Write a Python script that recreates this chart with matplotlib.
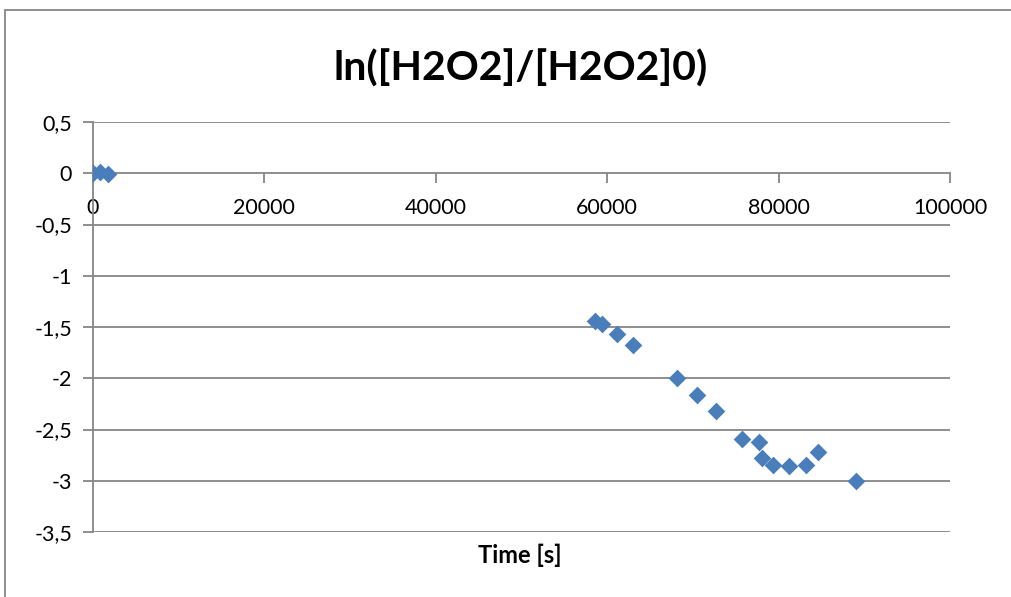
import matplotlib
matplotlib.use("Agg")
import matplotlib.pyplot as plt
from matplotlib.patches import Rectangle

# Datos
time_s = [0, 800, 1750, 58600, 59400, 61200, 63050, 68100, 70450, 72650,
          75700, 77750, 78050, 79400, 81250, 83200, 84650, 89050]
ln_ratio = [0.0, 0.01, -0.01, -1.44, -1.466, -1.564, -1.671, -1.997, -2.159, -2.322,
            -2.588, -2.621, -2.778, -2.842, -2.859, -2.842, -2.719, -3.005]

y_ticks = [0.5, 0, -0.5, -1, -1.5, -2, -2.5, -3, -3.5]
x_ticks = [0, 20000, 40000, 60000, 80000, 100000]

plt.rcParams['font.family'] = ['Lato', 'DejaVu Sans']

fig = plt.figure(figsize=(10.11, 5.97), dpi=100)
ax = fig.add_axes([93 / 1011, 65 / 597, 857 / 1011, 410 / 597])

grid_c = "#868686"

ax.scatter(time_s, ln_ratio, marker="D", s=9 ** 2, color="#4A7EBB", zorder=3, linewidths=0)

ax.set_xlim(0, 100000)
ax.set_ylim(-3.5, 0.5)

for v in y_ticks:
    if v != 0:
        ax.axhline(v, color=grid_c, lw=1.3, zorder=1)

for s in ["top", "right"]:
    ax.spines[s].set_visible(False)
ax.spines["left"].set_color(grid_c)
ax.spines["left"].set_linewidth(1.3)

# eje x en y = 0
ax.spines["bottom"].set_position(("data", 0))
ax.spines["bottom"].set_color(grid_c)
ax.spines["bottom"].set_linewidth(1.3)

ax.set_yticks(y_ticks)
ax.set_yticklabels([f"{v:g}".replace(".", ",") for v in y_ticks])
ax.set_xticks(x_ticks)
ax.set_xticklabels([str(v) for v in x_ticks])

ax.tick_params(axis="y", direction="out", length=7, width=1.3, color=grid_c, pad=8, labelsize=15.5)
ax.tick_params(axis="x", direction="out", length=7, width=1.3, color=grid_c, pad=11, labelsize=15.5)

ax.set_xlabel("Time [s]", fontsize=17, fontweight="bold", labelpad=0)
ax.xaxis.set_label_coords(0.498, -0.028)

fig.text(0.515, 0.885, "ln([H2O2]/[H2O2]0)", ha="center", va="center",
         fontsize=29.5, fontweight="bold")

# borde del área del gráfico
fig.patches.append(Rectangle((4.5 / 1011, -0.05), 1.1, 1 - 10 / 597 + 0.05,
                             transform=fig.transFigure, fill=False,
                             edgecolor=grid_c, lw=1.3))

fig.savefig("out.png", dpi=100)
